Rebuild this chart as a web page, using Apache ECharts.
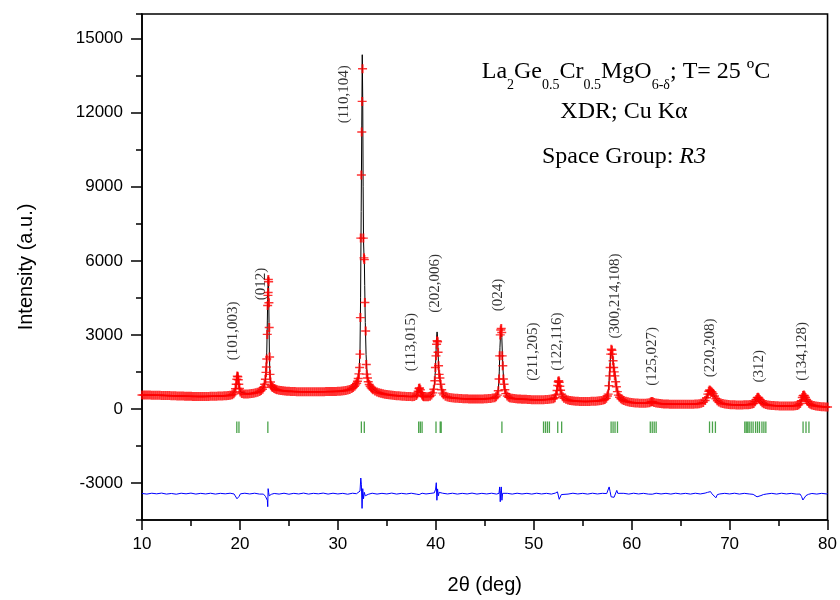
<!DOCTYPE html>
<html>
<head>
<meta charset="utf-8">
<script src="https://cdn.jsdelivr.net/npm/echarts@6/dist/echarts.min.js"></script>
<style>html,body{margin:0;padding:0;background:#fff}#c{width:840px;height:600px}</style>
</head>
<body>
<div id="c"></div>
<script>
// ---- Data ----
// Observed intensity (red crosses): [2theta, counts]
const observed = [
[10.0,565],[10.2,562],[10.4,566],[10.6,560],[10.8,563],[11.0,558],[11.2,556],[11.4,559],[11.6,553],[11.8,552],
[12.0,549],[12.2,547],[12.4,545],[12.6,541],[12.8,540],[13.0,536],[13.2,534],[13.4,531],[13.6,528],[13.8,525],
[14.0,522],[14.2,519],[14.4,517],[14.6,514],[14.8,511],[15.0,509],[15.2,508],[15.4,507],[15.6,506],[15.8,505],
[16.0,505],[16.2,506],[16.4,506],[16.6,507],[16.8,508],[17.0,510],[17.2,512],[17.4,514],[17.6,516],[17.8,519],
[18.0,522],[18.2,526],[18.4,531],[18.6,537],[18.8,545],[19.0,556],[19.2,575],[19.35,610],[19.45,680],[19.55,820],
[19.62,1000],[19.68,1200],[19.73,1330],[19.78,1300],[19.83,1180],[19.88,1000],[19.95,830],[20.05,690],[20.2,620],[20.4,600],
[20.6,600],[20.8,605],[21.0,612],[21.2,622],[21.4,635],[21.6,652],[21.8,675],[22.0,705],[22.15,745],[22.3,800],
[22.42,880],[22.52,1000],[22.6,1200],[22.66,1480],[22.7,1700],[22.74,2020],[22.79,3020],[22.83,4190],[22.86,4600],[22.88,4720],
[22.9,5240],[22.93,5150],[22.96,4300],[22.99,3300],[23.03,2100],[23.07,1400],[23.12,1090],[23.18,960],[23.26,900],[23.35,870],
[23.5,830],[23.65,800],[23.8,775],[24.0,755],[24.2,742],[24.4,732],[24.6,724],[24.8,718],[25.0,713],[25.2,709],
[25.4,706],[25.6,703],[25.8,700],[26.0,698],[26.2,696],[26.4,695],[26.6,694],[26.8,693],[27.0,693],[27.2,693],
[27.4,694],[27.6,695],[27.8,696],[28.0,697],[28.2,698],[28.4,699],[28.6,700],[28.8,701],[29.0,702],[29.2,703],
[29.4,704],[29.6,705],[29.8,708],[30.0,712],[30.2,718],[30.4,726],[30.6,736],[30.8,750],[31.0,768],[31.2,792],
[31.4,826],[31.55,865],[31.7,915],[31.82,975],[31.92,1040],[32.0,1120],[32.08,1230],[32.15,1420],[32.22,1680],[32.26,2220],
[32.3,3700],[32.34,6920],[32.4,9480],[32.44,11220],[32.48,12460],[32.52,13780],[32.6,6920],[32.66,6120],[32.7,6050],[32.76,4310],
[32.84,3160],[32.9,1800],[32.95,1410],[33.02,1250],[33.1,1100],[33.2,990],[33.3,920],[33.4,860],[33.5,815],[33.6,780],
[33.8,725],[34.0,685],[34.2,655],[34.4,632],[34.6,612],[34.8,596],[35.0,582],[35.2,570],[35.4,560],[35.6,551],
[35.8,543],[36.0,536],[36.2,530],[36.4,524],[36.6,518],[36.8,513],[37.0,508],[37.2,503],[37.4,500],[37.6,498],
[37.8,505],[38.0,540],[38.1,600],[38.2,720],[38.28,830],[38.34,850],[38.42,780],[38.5,660],[38.6,560],[38.7,510],
[38.8,495],[39.0,490],[39.2,495],[39.4,515],[39.55,560],[39.7,650],[39.8,800],[39.9,1140],[39.96,1680],[40.02,2150],
[40.08,2620],[40.13,2760],[40.18,2720],[40.23,2300],[40.28,1750],[40.34,1400],[40.42,1250],[40.5,1000],[40.6,780],[40.7,640],
[40.8,570],[41.0,515],[41.2,485],[41.4,465],[41.6,452],[41.8,442],[42.0,434],[42.2,428],[42.4,422],[42.6,418],
[42.8,414],[43.0,411],[43.2,408],[43.4,406],[43.6,404],[43.8,403],[44.0,402],[44.2,402],[44.4,403],[44.6,404],
[44.8,406],[45.0,409],[45.2,413],[45.4,419],[45.6,427],[45.8,438],[46.0,455],[46.15,490],[46.28,560],[46.38,740],
[46.46,1210],[46.52,2150],[46.58,3000],[46.63,3200],[46.68,3260],[46.73,3100],[46.78,2150],[46.84,1750],[46.9,1210],[46.97,1000],
[47.05,780],[47.15,620],[47.3,520],[47.45,470],[47.6,445],[47.8,428],[48.0,418],[48.2,410],[48.4,404],[48.6,399],
[48.8,395],[49.0,391],[49.2,387],[49.4,383],[49.6,379],[49.8,375],[50.0,372],[50.2,370],[50.4,368],[50.6,368],
[50.8,370],[51.0,374],[51.2,378],[51.4,382],[51.6,388],[51.8,398],[52.0,415],[52.15,450],[52.28,560],[52.38,750],
[52.45,950],[52.5,1100],[52.55,1140],[52.6,1080],[52.66,920],[52.74,760],[52.84,600],[52.96,490],[53.1,430],[53.3,390],
[53.5,362],[53.7,345],[53.9,333],[54.1,323],[54.3,316],[54.5,310],[54.7,305],[54.9,302],[55.1,300],[55.3,300],
[55.5,301],[55.7,303],[55.9,306],[56.1,310],[56.3,315],[56.5,322],[56.7,331],[56.9,344],[57.1,362],[57.25,385],
[57.4,430],[57.52,520],[57.6,600],[57.68,940],[57.75,1340],[57.8,1680],[57.86,2220],[57.92,2420],[57.98,2380],[58.04,2220],
[58.1,1950],[58.16,1680],[58.22,1500],[58.28,1340],[58.36,1100],[58.44,900],[58.54,700],[58.64,560],[58.76,470],[58.9,410],
[59.05,370],[59.2,340],[59.4,310],[59.6,288],[59.8,272],[60.0,260],[60.2,250],[60.4,243],[60.6,237],[60.8,233],
[61.0,230],[61.2,229],[61.4,230],[61.6,236],[61.8,255],[61.95,285],[62.05,300],[62.15,290],[62.3,262],[62.5,240],
[62.7,225],[62.9,215],[63.1,208],[63.3,203],[63.5,199],[63.7,196],[63.9,193],[64.1,191],[64.3,190],[64.5,189],
[64.7,188],[64.9,188],[65.1,187],[65.3,187],[65.5,187],[65.7,188],[65.9,189],[66.1,191],[66.3,194],[66.5,198],
[66.7,204],[66.9,214],[67.1,232],[67.3,265],[67.5,340],[67.65,450],[67.78,600],[67.88,720],[67.96,770],[68.04,740],
[68.12,700],[68.22,680],[68.32,620],[68.45,520],[68.6,410],[68.75,330],[68.9,280],[69.1,240],[69.3,215],[69.5,198],
[69.7,186],[69.9,178],[70.1,172],[70.3,168],[70.5,165],[70.7,163],[70.9,162],[71.1,162],[71.3,163],[71.5,165],
[71.7,168],[71.9,173],[72.1,181],[72.3,196],[72.45,220],[72.6,290],[72.72,380],[72.82,450],[72.9,470],[72.98,440],
[73.08,380],[73.2,310],[73.35,250],[73.5,210],[73.7,180],[73.9,160],[74.1,148],[74.3,140],[74.5,134],[74.7,129],
[74.9,125],[75.1,121],[75.3,119],[75.5,117],[75.7,116],[75.9,116],[76.1,117],[76.3,119],[76.5,123],[76.7,130],
[76.9,142],[77.05,165],[77.2,220],[77.32,330],[77.42,460],[77.5,540],[77.58,560],[77.66,520],[77.75,460],[77.85,380],
[77.96,300],[78.1,230],[78.25,185],[78.4,158],[78.6,138],[78.8,122],[79.0,110],[79.2,100],[79.4,92],[79.6,86],
[79.8,80],[80.0,75]
];

// Calculated profile (black line)
const calculated = [
[10,565],[11,558],[12,549],[13,536],[14,522],[15,509],[16,505],[17,510],[18,522],[18.8,545],[19.2,575],[19.4,640],
[19.5,750],[19.58,900],[19.64,1100],[19.7,1350],[19.75,1480],[19.8,1400],[19.86,1150],[19.92,950],[20.0,780],[20.1,670],
[20.3,610],[21,612],[21.6,652],[22.0,705],[22.3,800],[22.5,960],[22.6,1180],[22.68,1600],[22.74,2300],[22.8,3600],
[22.85,4800],[22.89,5360],[22.93,4900],[22.97,3500],[23.01,2200],[23.06,1450],[23.12,1100],[23.2,950],[23.35,870],[23.65,800],
[24.0,755],[25,713],[26,698],[27,693],[28,697],[29,702],[30,712],[30.6,736],[31.0,768],[31.4,826],[31.7,915],[31.92,1050],
[32.08,1250],[32.18,1600],[32.26,2400],[32.32,4500],[32.38,8000],[32.44,11500],[32.49,14350],[32.54,12500],[32.58,9000],[32.62,6800],
[32.66,6300],[32.7,6100],[32.74,5000],[32.8,3500],[32.88,2200],[32.96,1550],[33.05,1200],[33.2,990],[33.4,860],[33.6,780],
[34,685],[35,582],[36,536],[37,508],[37.6,498],[37.9,520],[38.1,620],[38.25,820],[38.33,880],[38.42,800],[38.55,620],[38.7,510],
[39,490],[39.4,515],[39.7,650],[39.85,950],[39.95,1500],[40.02,2300],[40.08,2900],[40.13,3120],[40.18,2900],[40.24,2200],
[40.3,1600],[40.36,1350],[40.44,1200],[40.52,950],[40.62,750],[40.8,570],[41.2,485],[42,434],[43,411],[44,402],[45,409],
[45.6,427],[46,455],[46.28,560],[46.4,850],[46.48,1500],[46.55,2500],[46.62,3100],[46.68,3180],[46.74,2900],[46.8,2200],
[46.86,1600],[46.93,1200],[47.0,900],[47.1,680],[47.3,520],[47.6,445],[48,418],[49,391],[50,372],[50.6,368],[51.2,378],
[51.8,398],[52.1,440],[52.3,620],[52.42,900],[52.5,1120],[52.56,1170],[52.62,1080],[52.7,880],[52.8,680],[52.95,500],
[53.1,430],[53.5,362],[54,328],[55,301],[56,308],[56.7,331],[57.1,362],[57.4,430],[57.55,560],[57.65,850],[57.72,1300],
[57.8,1900],[57.87,2300],[57.93,2380],[57.99,2300],[58.06,2100],[58.14,1800],[58.22,1550],[58.3,1380],[58.38,1150],[58.46,900],
[58.56,680],[58.7,510],[58.9,410],[59.2,340],[59.6,288],[60,260],[61,230],[61.6,236],[61.9,275],[62.05,305],[62.2,280],
[62.5,240],[63,211],[64,192],[65,187],[66,190],[66.7,204],[67.1,232],[67.4,300],[67.6,420],[67.8,620],[67.95,750],
[68.05,730],[68.2,690],[68.35,600],[68.5,480],[68.7,350],[68.9,280],[69.3,215],[70,175],[71,162],[71.9,173],[72.3,196],
[72.55,270],[72.75,410],[72.9,460],[73.05,410],[73.25,290],[73.5,210],[74,154],[75,123],[76,116],[76.7,130],[77.05,165],
[77.25,260],[77.4,430],[77.52,560],[77.62,560],[77.75,470],[77.9,350],[78.1,230],[78.4,158],[79,110],[80,75]
];

// Difference curve, plotted offset below the pattern (blue line)
const difference = [
[10.0,-3425],[10.5,-3450],[11.0,-3415],[11.5,-3440],[12.0,-3410],[12.5,-3450],[13.0,-3425],[13.5,-3455],[14.0,-3415],[14.5,-3440],
[15.0,-3410],[15.5,-3450],[16.0,-3420],[16.5,-3445],[17.0,-3415],[17.5,-3450],[18.0,-3420],[18.5,-3440],[19.0,-3415],[19.4,-3445],
[19.55,-3520],[19.7,-3640],[19.82,-3660],[19.92,-3540],[20.05,-3440],[20.5,-3415],[21.0,-3445],[21.5,-3415],[22.0,-3450],[22.4,-3450],
[22.6,-3540],[22.72,-3600],[22.8,-3700],[22.84,-3960],[22.88,-3230],[22.93,-3380],[22.99,-3520],[23.08,-3500],[23.2,-3460],[23.5,-3425],
[24.0,-3450],[24.5,-3415],[25.0,-3455],[25.5,-3420],[26.0,-3445],[26.5,-3410],[27.0,-3450],[27.5,-3420],[28.0,-3440],[28.5,-3410],
[29.0,-3450],[29.5,-3415],[30.0,-3445],[30.5,-3420],[31.0,-3455],[31.5,-3415],[31.9,-3435],[32.1,-3400],[32.26,-3330],[32.34,-2800],
[32.4,-3050],[32.47,-4030],[32.54,-3230],[32.62,-3640],[32.7,-3380],[32.8,-3520],[32.9,-3440],[33.1,-3460],[33.5,-3415],[34.0,-3450],
[34.5,-3420],[35.0,-3445],[35.5,-3410],[36.0,-3450],[36.5,-3420],[37.0,-3445],[37.5,-3415],[38.0,-3450],[38.3,-3470],[38.6,-3415],
[39.0,-3445],[39.5,-3420],[39.85,-3400],[39.98,-3250],[40.05,-2990],[40.11,-3700],[40.18,-3240],[40.26,-3520],[40.34,-3380],[40.45,-3450],
[40.7,-3415],[41.2,-3445],[41.7,-3415],[42.2,-3450],[42.7,-3420],[43.2,-3445],[43.7,-3410],[44.2,-3450],[44.7,-3420],[45.2,-3445],
[45.7,-3415],[46.2,-3450],[46.45,-3420],[46.52,-3160],[46.58,-3760],[46.64,-3300],[46.69,-3160],[46.75,-3700],[46.82,-3420],[46.95,-3450],
[47.3,-3420],[47.8,-3450],[48.3,-3415],[48.8,-3445],[49.3,-3420],[49.8,-3450],[50.3,-3415],[50.8,-3445],[51.3,-3420],[51.8,-3450],
[52.2,-3410],[52.42,-3360],[52.52,-3420],[52.6,-3660],[52.7,-3590],[52.82,-3470],[53.0,-3425],[53.5,-3450],[54.0,-3415],[54.5,-3445],
[55.0,-3420],[55.5,-3450],[56.0,-3415],[56.5,-3445],[57.0,-3420],[57.45,-3430],[57.6,-3380],[57.7,-3160],[57.8,-3350],[57.9,-3560],
[58.0,-3500],[58.1,-3640],[58.2,-3580],[58.3,-3640],[58.4,-3560],[58.48,-3300],[58.58,-3420],[58.75,-3450],[59.2,-3420],[59.7,-3450],
[60.2,-3415],[60.7,-3445],[61.2,-3420],[61.7,-3450],[62.1,-3455],[62.5,-3415],[63.0,-3445],[63.5,-3420],[64.0,-3450],[64.5,-3415],
[65.0,-3445],[65.5,-3420],[66.0,-3450],[66.5,-3415],[67.0,-3445],[67.5,-3410],[67.75,-3380],[67.85,-3330],[67.95,-3400],[68.05,-3350],
[68.2,-3440],[68.4,-3480],[68.6,-3600],[68.75,-3470],[69.0,-3445],[69.5,-3420],[70.0,-3445],[70.5,-3415],[71.0,-3450],[71.5,-3420],
[72.0,-3445],[72.4,-3460],[72.6,-3520],[72.8,-3560],[73.0,-3550],[73.2,-3510],[73.45,-3470],[73.8,-3445],[74.3,-3420],[74.8,-3450],
[75.3,-3415],[75.8,-3445],[76.3,-3420],[76.8,-3450],[77.2,-3450],[77.35,-3550],[77.48,-3690],[77.6,-3620],[77.8,-3510],[78.05,-3460],
[78.4,-3425],[78.9,-3450],[79.4,-3420],[79.9,-3445],[80.0,-3430]
];

// Bragg reflection positions (green ticks), 2theta
const braggPositions = [
19.68,19.9,22.85,32.4,32.7,38.25,38.42,38.6,40.02,40.45,40.55,46.75,
51.0,51.2,51.4,51.6,52.45,52.85,57.9,58.1,58.3,58.55,61.9,62.1,62.3,62.5,
67.95,68.25,68.55,71.55,71.7,71.85,72.0,72.2,72.4,72.65,72.85,73.05,73.3,73.5,73.7,
77.5,77.8,78.1
];
const braggLevel = -740;

// Miller index labels: [2theta, intensity at start of text, text]
const hklLabels = [
[19.3,1975,'(101,003)'],[22.2,4400,'(012)'],[30.6,11570,'(110,104)'],[37.5,1530,'(113,015)'],
[39.9,3900,'(202,006)'],[46.4,3960,'(024)'],[49.93,1140,'(211,205)'],[52.38,1545,'(122,116)'],
[58.3,2850,'(300,214,108)'],[62.07,940,'(125,027)'],[67.96,1280,'(220,208)'],[72.96,1075,'(312)'],
[77.38,1140,'(134,128)']
];

// Axis ticks
const xTicks = {min:10, max:80, step:10};
const yMajorTicks = [-3000,0,3000,6000,9000,12000,15000];
const yRange = {min:-4500, max:16000, step:1500};

// ---- Chart ----
const SANS = 'Liberation Sans, Arial, sans-serif';
const SERIF = 'Liberation Serif, Times New Roman, serif';
const crossPath = 'path://M3.85,0H6.15V4.2H10V5.8H6.15V10H3.85V5.8H0V4.2H3.85Z';

const chart = echarts.init(document.getElementById('c'), null, {renderer:'canvas'});
const axisLineStyle = {color:'#000', width:1.6};
chart.setOption({
  animation:false,
  backgroundColor:'#fff',
  grid:{left:142, right:12, top:14, bottom:78, show:true, borderColor:'#000', borderWidth:1.6, backgroundColor:'transparent'},
  xAxis:{
    type:'value', min:xTicks.min, max:xTicks.max, interval:xTicks.step,
    axisLine:{onZero:false, lineStyle:axisLineStyle},
    axisTick:{length:10, lineStyle:{color:'#000', width:1.5}},
    minorTick:{show:true, splitNumber:2, length:6, lineStyle:{color:'#000', width:1.5}},
    splitLine:{show:false}, minorSplitLine:{show:false},
    axisLabel:{fontSize:17, color:'#000', margin:16, fontFamily:SANS},
    name:'2θ (deg)', nameLocation:'middle', nameGap:55,
    nameTextStyle:{fontSize:20, color:'#000', fontFamily:SANS}
  },
  yAxis:[{
    type:'value', min:yRange.min, max:yRange.max, interval:yRange.step, position:'left',
    axisLine:{onZero:false, lineStyle:axisLineStyle},
    axisTick:{length:6, lineStyle:{color:'#000', width:1.5}},
    splitLine:{show:false},
    axisLabel:{fontSize:17, color:'#000', margin:19, fontFamily:SANS,
      formatter: v => (yMajorTicks.indexOf(v) >= 0 ? String(v) : '')},
    name:'Intensity (a.u.)', nameLocation:'middle', nameGap:106, nameRotate:90,
    nameTextStyle:{fontSize:20, color:'#000', fontFamily:SANS}
  },{
    type:'value', min:yRange.min, max:yRange.max, interval:yRange.step, position:'left',
    axisLine:{show:false, onZero:false},
    axisTick:{show:true, length:11, customValues:yMajorTicks, lineStyle:{color:'#000', width:1.5}},
    axisLabel:{show:false}, splitLine:{show:false}
  }],
  series:[
    {type:'line', name:'Ycalc', data:calculated, showSymbol:false, symbol:'none',
     lineStyle:{color:'#000', width:1}, silent:true, z:2},
    {type:'scatter', name:'Yobs', data:observed, symbol:crossPath, symbolSize:9,
     itemStyle:{color:'#ff0000'}, silent:true, z:3},
    {type:'line', name:'Yobs-Ycalc', data:difference, showSymbol:false, symbol:'none',
     lineStyle:{color:'#0000ff', width:1}, silent:true, z:2},
    {type:'scatter', name:'Bragg', data:braggPositions.map(p => [p, braggLevel]),
     symbol:'rect', symbolSize:[1.3, 11.5], itemStyle:{color:'#1e8c1e'}, silent:true, z:2},
    {type:'scatter', name:'hkl', data:hklLabels.map(d => ({value:[d[0], d[1]], name:d[2]})),
     symbolSize:0, silent:true, z:4,
     label:{show:true, formatter:'{b}', rotate:90, position:[0,0], align:'left', verticalAlign:'middle',
       fontSize:15, color:'#000', fontFamily:SERIF}}
  ],
  graphic:[
    {type:'text', x:626, y:72, style:{
      text:'{n|La}{s|2}{n|Ge}{s|0.5}{n|Cr}{s|0.5}{n|MgO}{s|6-δ}{n|; T= 25 ºC}',
      align:'center', verticalAlign:'middle',
      rich:{
        n:{fontSize:24, fontFamily:SERIF, fill:'#000'},
        s:{fontSize:14, fontFamily:SERIF, fill:'#000', padding:[26,0,0,0]}
      }}},
    {type:'text', x:624, y:112, style:{text:'XDR; Cu Kα', align:'center', verticalAlign:'middle',
      fontSize:24, fontFamily:SERIF, fill:'#000'}},
    {type:'text', x:624, y:157, style:{text:'{n|Space Group: }{i|R3}', align:'center', verticalAlign:'middle',
      rich:{
        n:{fontSize:24, fontFamily:SERIF, fill:'#000'},
        i:{fontSize:24, fontFamily:SERIF, fontStyle:'italic', fill:'#000'}
      }}}
  ]
});
</script>
</body>
</html>
